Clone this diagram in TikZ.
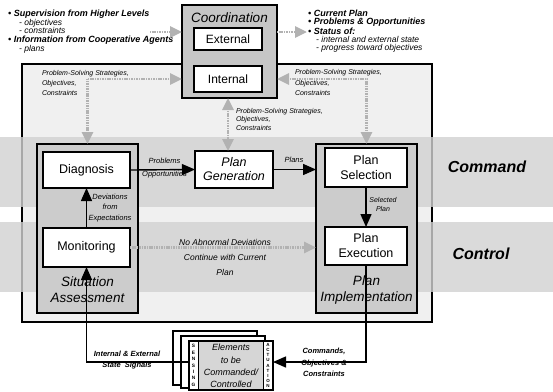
\documentclass[tikz,border=0pt]{standalone}
\usepackage{fontspec}
\setmainfont{Liberation Sans}
\usetikzlibrary{arrows.meta}
\newcommand\myfs[2]{\fontsize{#1}{#2}\selectfont}
\begin{document}
\begin{tikzpicture}[x=1pt,y=-1pt,
  box/.style={draw, line width=1.5pt, fill=white, inner sep=0pt, outer sep=0pt, align=center, font=\myfs{12.5}{14.5}},
  grp/.style={draw, line width=1.8pt, fill=gray!40, inner sep=0pt, outer sep=0pt},
  lbl/.style={inner sep=0pt, outer sep=0pt, font=\myfs{7}{10}\itshape},
  headtxt/.style={inner sep=0pt, anchor=west, font=\myfs{9}{10}\bfseries\itshape},
  subtxt/.style={inner sep=0pt, anchor=west, font=\myfs{8.5}{10}\itshape},
  bigtxt/.style={inner sep=0pt, align=center, font=\myfs{13.5}{16}\itshape},
  bandtxt/.style={inner sep=0pt, font=\myfs{16}{18}\bfseries\itshape},
  bandfill/.style={fill=gray!36, fill opacity=0.8},
  blkhead/.tip={Triangle[width=11pt,length=13pt]},
  fathead/.tip={Triangle[width=11pt,length=12pt]},
  blk/.style={line width=1.4pt, -blkhead},
  fat/.style={draw=gray!60, line width=2.8pt, dash pattern=on 1.1pt off 0.6pt, -fathead},
  fatboth/.style={draw=gray!60, line width=2.8pt, dash pattern=on 1.1pt off 0.6pt, fathead-fathead},
  stack/.style={draw, line width=1.2pt, fill=white, inner sep=0pt, outer sep=0pt}
]
\useasboundingbox (0,0) rectangle (553,391);
\fill[white] (0,0) rectangle (553,391);

% outer box and bands
\fill[gray!12] (22,64) rectangle (432,322);
\draw[line width=2.6pt] (22,64) rectangle (432,322);
\fill[bandfill] (0,137) rectangle (553,207);
\fill[bandfill] (0,222) rectangle (553,292);
\node[bandtxt] (cmd) at (487,167) {Command};
\node[bandtxt] (ctl) at (481,254) {Control};

% coordination
\node[grp, fill=gray!45, minimum width=95pt, minimum height=93pt] (coord) at (229.5,51.5) {};
\node[bigtxt] (coordlbl) at (229.5,18) {Coordination};
\node[box, minimum width=68pt, minimum height=22pt, font=\myfs{12}{14}] (ext) at (228,39) {External};
\node[box, minimum width=68pt, minimum height=26pt, font=\myfs{12}{14}] (int) at (228,79) {Internal};

% groups
\node[grp, minimum width=101pt, minimum height=169pt] (sa) at (87.5,228.5) {};
\node[grp, minimum width=101pt, minimum height=169pt] (pi) at (366.5,228.5) {};
\node[bigtxt, anchor=north] (satxt) at (87.5,277) {Situation\\Assessment};
\node[bigtxt, anchor=north] (pitxt) at (366.5,276) {Plan\\Implementation};

% boxes
\node[box, minimum width=87pt, minimum height=36pt] (diag) at (86.5,170) {Diagnosis};
\node[box, minimum width=87pt, minimum height=39pt] (mon) at (86.5,247.5) {Monitoring};
\node[box, minimum width=78pt, minimum height=37pt, font=\myfs{12.5}{14}\itshape] (pgen) at (234,169.5) {Plan\\Generation};
\node[box, minimum width=82pt, minimum height=39pt, font=\myfs{12.5}{15}] (psel) at (366,167.5) {Plan\\Selection};
\node[box, minimum width=82pt, minimum height=38pt, font=\myfs{12.5}{15}] (pexec) at (366,246) {Plan\\Execution};

% stacked elements
\node[stack, minimum width=84pt, minimum height=54pt] (stk1) at (215,358) {};
\node[stack, minimum width=84pt, minimum height=52pt] (stk2) at (223,362) {};
\node[fill=white, inner sep=0pt, outer sep=0pt, minimum width=84pt, minimum height=49pt] (elem) at (231,365.5) {};
\fill[gray!32] ([xshift=9pt]elem.north west) rectangle ([xshift=-10pt]elem.south east);
\draw[line width=1.5pt] (elem.north west) rectangle (elem.south east);
\draw[line width=0.8pt] ([xshift=9pt]elem.north west) -- ([xshift=9pt]elem.south west);
\draw[line width=0.8pt] ([xshift=-10pt]elem.north east) -- ([xshift=-10pt]elem.south east);
\node[inner sep=0pt, align=center, font=\myfs{4.8}{6.4}\bfseries] (sens) at ([xshift=4.5pt]elem.west) {S\\E\\N\\S\\I\\N\\G};
\node[inner sep=0pt, align=center, font=\myfs{4.5}{5.1}\bfseries] (act) at ([xshift=-5pt]elem.east) {A\\C\\T\\U\\A\\T\\I\\O\\N};
\node[inner sep=0pt, align=center, font=\myfs{9}{12.3}\itshape] (elemtxt) at (231,366) {Elements\\to be\\Commanded/\\Controlled};

% top texts
\node[headtxt] (t1) at (8,14) {• Supervision from Higher Levels};
\node[subtxt] (t2) at (19,23) {- objectives};
\node[subtxt] (t3) at (19,30.5) {- constraints};
\node[headtxt] (t4) at (8,40.5) {• Information from Cooperative Agents};
\node[subtxt] (t5) at (19,49.5) {- plans};
\node[headtxt] (r1) at (308,13) {• Current Plan};
\node[headtxt] (r2) at (308,22) {• Problems \& Opportunities};
\node[headtxt] (r3) at (308,31) {• Status of:};
\node[subtxt] (r4) at (316,39.5) {- internal and external state};
\node[subtxt] (r5) at (316,48.5) {- progress toward objectives};

% small labels
\node[lbl, anchor=north west, align=left] (pssl) at (42,70.5) {Problem-Solving Strategies,\\Objectives,\\Constraints};
\node[lbl, anchor=north west, align=left, font=\myfs{7}{10.5}\itshape] (pssr) at (295,69.5) {Problem-Solving Strategies,\\Objectives,\\Constraints};
\node[lbl, anchor=north west, align=left, font=\myfs{7}{8.5}\itshape] (pssc) at (236,108) {Problem-Solving Strategies,\\Objectives,\\Constraints};
\node[lbl, anchor=north, align=center, font=\myfs{7.5}{10.5}\itshape] (devl) at (110,194) {Deviations\\from\\Expectations};
\node[lbl, align=center, font=\myfs{7.5}{13}\itshape] (probl) at (164.5,168.5) {Problems\\Opportunities};
\node[lbl, font=\myfs{7.5}{9}\itshape] (plansl) at (294,160) {Plans};
\node[lbl, anchor=north, align=center, font=\myfs{7}{9.5}\itshape] (sell) at (383,197) {Selected\\Plan};
\node[lbl, anchor=north, align=center, font=\myfs{8.5}{15}\itshape] (noabl) at (225,239.5) {No Abnormal Deviations\\Continue with Current\\Plan};
\node[lbl, anchor=north, align=center, font=\myfs{7.5}{11}\bfseries\itshape] (sigl) at (127,351.5) {Internal \& External\\State\ \ Signals};
\node[lbl, anchor=north, align=center, font=\myfs{7.5}{11.5}\bfseries\itshape] (cmdl) at (324,348.5) {Commands,\\Objectives \&\\Constraints};

% coordinates for free ends
\coordinate (lin) at (150,32);
\coordinate (rout) at (307,32);
\coordinate (cx) at (228,0);
\coordinate (bl) at (0,362);

% stippled arrows
\draw[fat] (lin) -- (lin -| coord.west);
\draw[fat] (rout -| coord.east) -- (rout);
\draw[fatboth] (coord.west |- int) -| (sa.north);
\draw[fatboth] (coord.east |- int) -| (pi.north);
\draw[fatboth] (cx |- coord.south) -- (cx |- pgen.north);
\draw[fat] (mon.east) -- (mon.east -| pi.west);

% black arrows
\draw[blk] (mon.north) -- (diag.south);
\draw[blk] (diag.east) -- (pgen.west);
\draw[blk] (pgen.east) -- (pgen.east -| pi.west);
\draw[blk] (psel.south) -- (pexec.north);
\draw[blk] (elem.west |- bl) -| (mon.south);
\draw[blk] (pexec.south) |- (elem.east |- bl);
\end{tikzpicture}
\end{document}
